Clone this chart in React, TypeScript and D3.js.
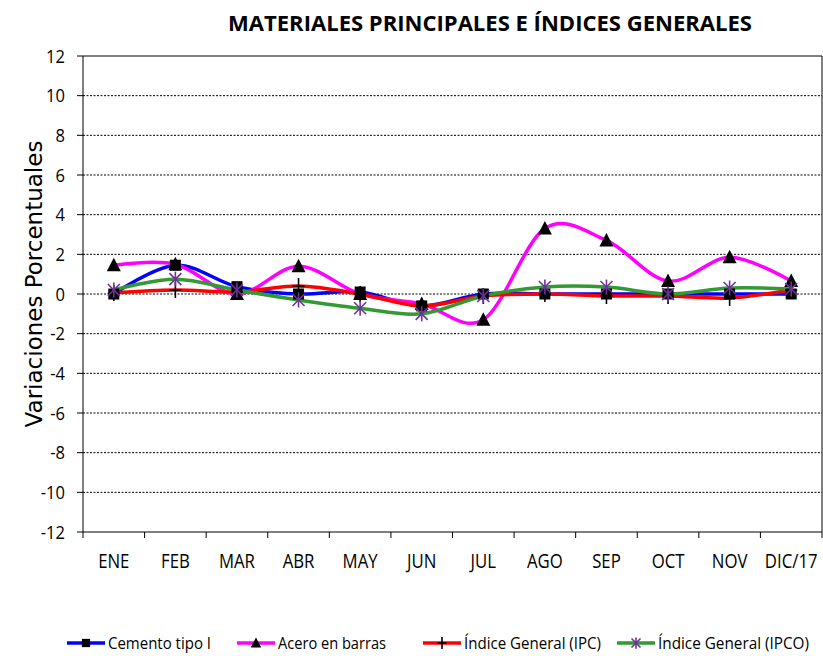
import React from "react";
import * as d3 from "d3";

const months = ["ENE", "FEB", "MAR", "ABR", "MAY", "JUN", "JUL", "AGO", "SEP", "OCT", "NOV", "DIC/17"];
const cemento = [0, 1.45, 0.37, 0, 0.1, -0.6, 0, 0, 0, 0, 0, 0];
const acero = [1.45, 1.5, 0, 1.4, 0, -0.5, -1.3, 3.3, 2.7, 0.65, 1.85, 0.65];
const ipc = [0.05, 0.2, 0.1, 0.4, 0, -0.6, -0.1, 0, -0.1, -0.1, -0.2, 0.2];
const ipco = [0.2, 0.75, 0.2, -0.3, -0.72, -1.0, -0.1, 0.35, 0.35, 0, 0.3, 0.25];
const yTicks = [-12, -10, -8, -6, -4, -2, 0, 2, 4, 6, 8, 10, 12];
const seriesNames = ["Cemento tipo I", "Acero en barras", "Índice General (IPC)", "Índice General (IPCO)"];
const seriesColors = ["#0000FF", "#FF00FF", "#FF0000", "#339933"];

const W = 823, H = 656;
const L = 83, R = 822, T = 56, B = 532;
const FONT = "'Open Sans', sans-serif";

function Marker({ kind, x, y, s = 1 }: { kind: number; x: number; y: number; s?: number }) {
  if (kind === 0) return <rect x={x - 5.5 * s} y={y - 5.5 * s} width={11 * s} height={11 * s} fill="#000" />;
  if (kind === 1)
    return <path d={`M${x},${y - 7.5 * s} L${x + 7 * s},${y + 6 * s} L${x - 7 * s},${y + 6 * s} Z`} fill="#000" />;
  if (kind === 2)
    return (
      <g stroke="#000" strokeWidth={1.6}>
        <line x1={x - 6 * s} x2={x + 6 * s} y1={y} y2={y} />
        <line x1={x} x2={x} y1={y - 8 * s} y2={y + 8 * s} />
      </g>
    );
  return (
    <g stroke="#7030A0" strokeWidth={1.6}>
      <line x1={x - 6 * s} x2={x + 6 * s} y1={y - 6 * s} y2={y + 6 * s} />
      <line x1={x - 6 * s} x2={x + 6 * s} y1={y + 6 * s} y2={y - 6 * s} />
      <line x1={x} x2={x} y1={y - 7.5 * s} y2={y + 7.5 * s} />
    </g>
  );
}

export default function App() {
  const x = d3.scaleBand<string>().domain(months).range([L, R]);
  const y = d3.scaleLinear().domain([-12, 12]).range([B, T]);
  const data = [cemento, acero, ipc, ipco];
  const cx = (i: number) => (x(months[i]) as number) + x.bandwidth() / 2;
  const line = d3
    .line<number>()
    .x((_, i) => cx(i))
    .y((v) => y(v))
    .curve(d3.curveCardinal.tension(0));
  const bounds = [...months.map((m) => x(m) as number), R];
  const legendX = [67, 237, 423, 617];
  const legendLen = [103, 108, 137, 151];
  return (
    <svg width={W} height={H} style={{ position: "absolute", left: 0, top: 0, background: "#fff" }}>
      <text x={228} y={31} textLength={524} lengthAdjust="spacingAndGlyphs" fontFamily={FONT} fontWeight="bold" fontSize={22} fill="#000">
        MATERIALES PRINCIPALES E ÍNDICES GENERALES
      </text>
      {yTicks.map((t) => (
        <g key={t}>
          {t !== -12 && t !== 12 && (
            <line x1={L} x2={R} y1={y(t)} y2={y(t)} stroke="#000" strokeWidth={1} strokeDasharray="2,1.5" />
          )}
          <line x1={L - 6} x2={L} y1={y(t)} y2={y(t)} stroke="#000" />
          <text transform={`translate(65,${y(t) + 6.5}) scale(0.92,1)`} textAnchor="end" fontFamily={FONT} fontSize={18} fill="#000">
            {t}
          </text>
        </g>
      ))}
      <line x1={L} x2={R} y1={T} y2={T} stroke="#000" />
      <line x1={R} x2={R} y1={T} y2={B} stroke="#000" />
      <line x1={L} x2={R} y1={B} y2={B} stroke="#000" />
      <line x1={L} x2={L} y1={T} y2={B} stroke="#000" />
      {bounds.map((b, i) => (
        <line key={i} x1={b} x2={b} y1={B} y2={B + 6} stroke="#000" />
      ))}
      {months.map((m, i) => (
        <text key={m} transform={`translate(${cx(i)},568) scale(0.86,1)`} textAnchor="middle" fontFamily={FONT} fontSize={19.5} fill="#000">
          {m}
        </text>
      ))}
      <text transform={`translate(42,284) rotate(-90)`} textAnchor="middle" fontFamily="'DejaVu Sans', sans-serif" fontSize={23} fill="#000">
        Variaciones Porcentuales
      </text>
      {data.map((d, k) => (
        <path key={k} d={line(d) as string} fill="none" stroke={seriesColors[k]} strokeWidth={3.5} />
      ))}
      {data.map((d, k) => d.map((v, i) => <Marker key={`${k}-${i}`} kind={k} x={cx(i)} y={y(v)} />))}
      {seriesNames.map((n, k) => (
        <g key={n}>
          <line x1={legendX[k]} x2={legendX[k] + 38} y1={643} y2={643} stroke={seriesColors[k]} strokeWidth={3.5} />
          <Marker kind={k} x={legendX[k] + 19} y={643} s={0.75} />
          <text x={legendX[k] + 41} y={649} textLength={legendLen[k]} lengthAdjust="spacingAndGlyphs" fontFamily={FONT} fontSize={16} fill="#000">
            {n}
          </text>
        </g>
      ))}
    </svg>
  );
}
